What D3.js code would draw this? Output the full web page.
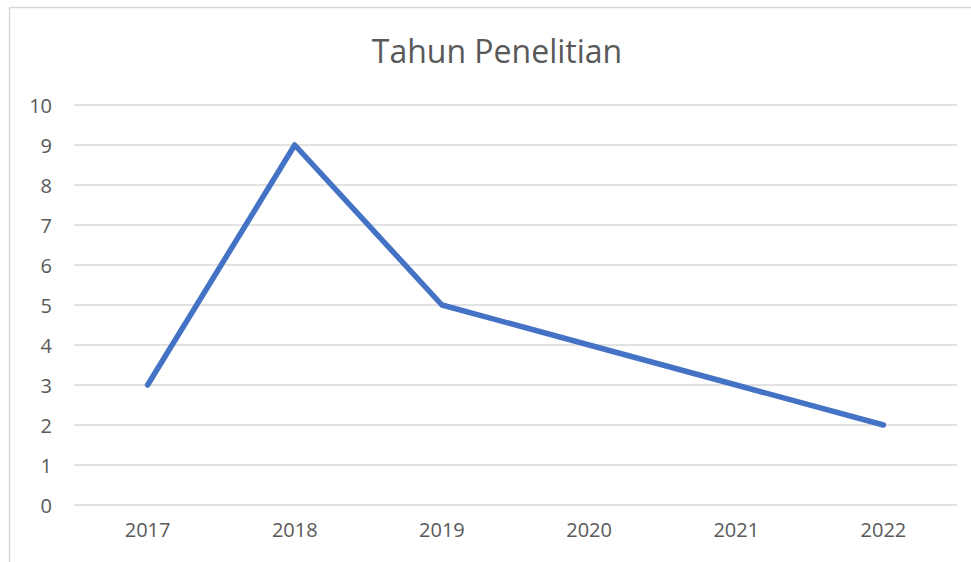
<!DOCTYPE html>
<html>
<head>
<meta charset="utf-8">
<script src="https://cdn.jsdelivr.net/npm/d3@7"></script>
<style>
  body { margin: 0; background: #fff; }
  text { font-family: "Open Sans", sans-serif; fill: #595959; }
</style>
</head>
<body>
<svg id="chart" width="971" height="562"></svg>
<script>
// data
var years = ["2017", "2018", "2019", "2020", "2021", "2022"];
var counts = [3, 9, 5, 4, 3, 2];
var yTicks = [0, 1, 2, 3, 4, 5, 6, 7, 8, 9, 10];
var chartTitle = "Tahun Penelitian";

var svg = d3.select("#chart");

// chart border (runs off the right and bottom edge)
svg.append("rect")
    .attr("x", 9.5).attr("y", 7.5)
    .attr("width", 1000).attr("height", 600)
    .style("fill", "none")
    .style("stroke", "#d9d9d9")
    .style("stroke-width", 1.5);

// plot area edges ("top" is taken by window.top)
var plotLeft = 74, plotRight = 957, plotTop = 105, plotBottom = 505;

var x = d3.scaleBand().domain(years).range([plotLeft, plotRight]);
var y = d3.scaleLinear().domain([0, 10]).range([plotBottom, plotTop]);

// gridlines
svg.append("g")
    .selectAll("line")
    .data(yTicks)
    .enter()
    .append("line")
    .attr("x1", plotLeft).attr("x2", plotRight)
    .attr("y1", d => y(d)).attr("y2", d => y(d))
    .style("stroke", "#d9d9d9")
    .style("stroke-width", 1.5);

// y axis labels
var yAxis = svg.append("g")
    .attr("transform", "translate(" + (plotLeft - 22) + ",0)")
    .call(d3.axisLeft(y).tickValues(yTicks).tickSize(0).tickPadding(0));
yAxis.select(".domain").remove();
yAxis.selectAll("text").style("font-size", "20px").attr("dy", "0.35em").style("fill", "#595959");

// x axis labels
var xAxis = svg.append("g")
    .attr("transform", "translate(0," + plotBottom + ")")
    .call(d3.axisBottom(x).tickSize(0).tickPadding(25));
xAxis.select(".domain").remove();
xAxis.selectAll("text").style("font-size", "20px").attr("dy", "0.35em").style("fill", "#595959");

// the line
var line = d3.line()
    .x((d, i) => x(years[i]) + x.bandwidth() / 2)
    .y(d => y(d));

svg.append("path")
    .datum(counts)
    .attr("d", line)
    .style("fill", "none")
    .style("stroke", "#4472c4")
    .style("stroke-width", 5.5)
    .style("stroke-linejoin", "round")
    .style("stroke-linecap", "round");

// title
svg.append("text")
    .attr("x", 497).attr("y", 63)
    .attr("text-anchor", "middle")
    .style("font-size", "32px")
    .text(chartTitle);
</script>
</body>
</html>
